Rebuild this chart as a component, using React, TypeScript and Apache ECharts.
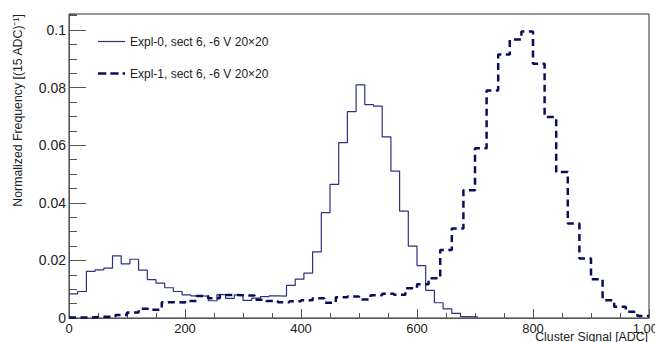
import { useEffect, useRef } from "react";
import * as echarts from "echarts";

const X_MIN = 0;
const X_MAX = 1000;
const X_STEP = 200;
const Y_MIN = 0;
const Y_MAX = 0.1056;
const Y_STEP = 0.02;
const Y_MINOR_STEP = 0.005;

const seriesNames = ["Expl-0, sect 6, -6 V 20×20", "Expl-1, sect 6, -6 V 20×20"];
const binWidths = [15, 20];

// Expl-0: 15 ADC bins starting at 0
const expl0 = [
  0.0084, 0.0092, 0.0162, 0.0167, 0.0173, 0.0216, 0.0188, 0.0204, 0.0166, 0.0133,
  0.0121, 0.0105, 0.0092, 0.008, 0.0077, 0.0076, 0.006, 0.0081, 0.0068, 0.008,
  0.0061, 0.0069, 0.0074, 0.0077, 0.0076, 0.0113, 0.0135, 0.0156, 0.023, 0.0366,
  0.0464, 0.0609, 0.0717, 0.081, 0.0741, 0.0736, 0.0629, 0.051, 0.0371, 0.025,
  0.0182, 0.0096, 0.0053, 0.0032, 0.0016, 0.0005, 0.0004,
];

// Expl-1: 20 ADC bins starting at 0
const expl1 = [
  0.0002, 0.0002, 0.0004, 0.0005, 0.001, 0.0019, 0.0032, 0.0029, 0.0055, 0.0054,
  0.0059, 0.0076, 0.0069, 0.008, 0.0079, 0.0078, 0.0063, 0.0059, 0.0055, 0.0058,
  0.0062, 0.0069, 0.0053, 0.0072, 0.0075, 0.0064, 0.0079, 0.0084, 0.0081, 0.0103,
  0.0117, 0.0138, 0.0236, 0.0311, 0.0444, 0.059, 0.079, 0.0915, 0.0967, 0.0995,
  0.0883, 0.0698, 0.0507, 0.0328, 0.0207, 0.0135, 0.0062, 0.0039, 0.0022, 0.0007,
];

const xTitle = "Cluster Signal [ADC]";
const yTitle = "Normalized Frequency [(15 ADC)⁻¹]";

const FONT = "'Liberation Sans', Arial, Helvetica, sans-serif";
const COLORS = ["#30307f", "#0c0c5c"];
const WIDTHS = [1.2, 2.5];
const SERIES_DASH = [7, 4.5];
const LEGEND_DASH = [8.3, 4];

function toSteps(values: number[], width: number): number[][] {
  const pts = values.map((v, i) => [i * width, v]);
  pts.push([values.length * width, values[values.length - 1]]);
  return pts;
}

function yLabel(v: number): string {
  const k = Math.round(v / Y_STEP);
  if (Math.abs(k * Y_STEP - v) > 1e-9) return "";
  return String(Number((k * Y_STEP).toFixed(3)));
}

export default function App() {
  const ref = useRef<HTMLDivElement>(null);

  useEffect(() => {
    if (!ref.current) return;
    const chart = echarts.init(ref.current, undefined, { renderer: "svg" });
    const axisColor = "#555";
    const legendRows = [41.5, 73.5];
    const legendGraphics: any[] = [];
    seriesNames.forEach((name, i) => {
      legendGraphics.push({
        type: "line",
        shape: { x1: 98, y1: legendRows[i], x2: 125, y2: legendRows[i] },
        style: {
          stroke: COLORS[i],
          lineWidth: WIDTHS[i],
          lineDash: i === 1 ? LEGEND_DASH : null,
        },
      });
      legendGraphics.push({
        type: "text",
        x: 130,
        y: legendRows[i] + 0.5,
        style: {
          text: name,
          fontSize: 12,
          fontFamily: FONT,
          fill: "#222",
          align: "left",
          verticalAlign: "middle",
        },
      });
    });

    chart.setOption({
      animation: false,
      backgroundColor: "#ffffff",
      textStyle: { fontFamily: FONT },
      grid: {
        left: 69,
        right: 6,
        top: 14,
        bottom: 24,
        show: true,
        borderColor: "#333",
        borderWidth: 1,
        backgroundColor: "transparent",
        containLabel: false,
        outerBoundsMode: "none",
      },
      xAxis: {
        type: "value",
        min: X_MIN,
        max: X_MAX,
        interval: X_STEP,
        axisLine: { show: true, lineStyle: { color: axisColor } },
        axisTick: { show: true, inside: true, length: 9, lineStyle: { color: axisColor } },
        minorTick: { show: true, splitNumber: 4, length: 5, lineStyle: { color: axisColor } },
        splitLine: { show: false },
        minorSplitLine: { show: false },
        axisLabel: { fontSize: 13, color: "#222", margin: 4, fontFamily: FONT },
      },
      yAxis: [
        {
          type: "value",
          min: Y_MIN,
          max: Y_MAX,
          interval: Y_STEP,
          position: "left",
          axisLine: { show: true, lineStyle: { color: axisColor } },
          axisTick: { show: true, inside: true, length: 17, lineStyle: { color: axisColor } },
          splitLine: { show: false },
          axisLabel: {
            fontSize: 14,
            color: "#222",
            margin: 3,
            fontFamily: FONT,
            formatter: yLabel,
            showMaxLabel: false,
          },
        },
        {
          type: "value",
          min: Y_MIN,
          max: Y_MAX,
          interval: Y_MINOR_STEP,
          position: "left",
          offset: 0,
          axisLine: { show: false },
          axisTick: { show: true, inside: true, length: 8, lineStyle: { color: axisColor } },
          splitLine: { show: false },
          axisLabel: { show: false },
        },
      ],
      series: [
        {
          name: seriesNames[0],
          type: "line",
          yAxisIndex: 0,
          step: "end",
          symbol: "none",
          data: toSteps(expl0, binWidths[0]),
          lineStyle: { color: COLORS[0], width: WIDTHS[0], type: "solid" },
          itemStyle: { color: COLORS[0] },
        },
        {
          name: seriesNames[1],
          type: "line",
          yAxisIndex: 0,
          step: "end",
          symbol: "none",
          data: toSteps(expl1, binWidths[1]),
          lineStyle: { color: COLORS[1], width: WIDTHS[1], type: SERIES_DASH },
          itemStyle: { color: COLORS[1] },
        },
      ],
      graphic: [
        ...legendGraphics,
        {
          type: "text",
          x: 18,
          y: 14,
          rotation: Math.PI / 2,
          style: {
            text: yTitle,
            fontSize: 12.3,
            fontFamily: FONT,
            fill: "#222",
            align: "right",
            verticalAlign: "middle",
          },
        },
        {
          type: "text",
          x: 648,
          y: 331,
          style: {
            text: xTitle,
            fontSize: 12.3,
            fontFamily: FONT,
            fill: "#222",
            align: "right",
            verticalAlign: "top",
          },
        },
      ],
    });
    return () => chart.dispose();
  }, []);

  return (
    <div
      ref={ref}
      style={{ position: "absolute", left: 0, top: 0, width: 655, height: 342, background: "#fff" }}
    />
  );
}
